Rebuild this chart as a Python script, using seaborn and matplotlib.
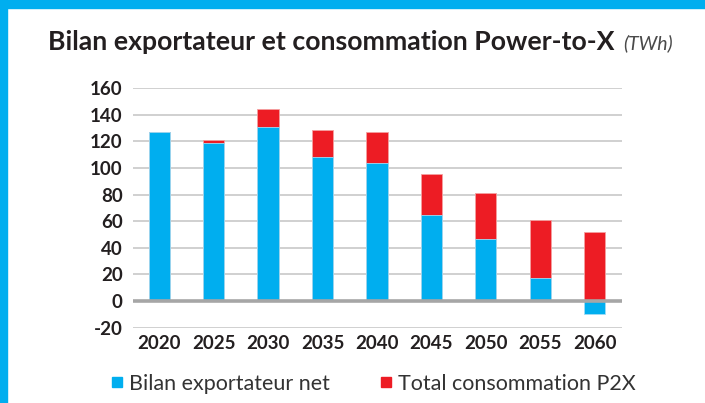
import matplotlib
matplotlib.use("Agg")
import matplotlib.pyplot as plt
import seaborn as sns
import numpy as np
import pandas as pd
from matplotlib.lines import Line2D
from matplotlib.patches import Rectangle

years = ["2020", "2025", "2030", "2035", "2040", "2045", "2050", "2055", "2060"]
bilan_net = [127, 119, 131, 108.5, 103.5, 65, 46.5, 17.5, -10]
conso_p2x = [0, 2, 13.5, 20, 23.5, 30.5, 34.5, 43.5, 52]
y_ticks = [-20, 0, 20, 40, 60, 80, 100, 120, 140, 160]

BLUE = "#00AEEF"
RED = "#ED1C24"
TXT = "#231F20"

sns.set_theme(style="white")
plt.rcParams["font.family"] = ["Lato", "DejaVu Sans"]

df = pd.DataFrame({"year": years, "net": bilan_net, "p2x": conso_p2x})
df["top"] = df["net"].clip(lower=0) + df["p2x"]

fig = plt.figure(figsize=(7.05, 4.03), dpi=100)
ax = fig.add_axes([133 / 705, 1 - 327.7 / 403, (622 - 133) / 705, (327.7 - 88) / 403])

sns.barplot(data=df, x="year", y="top", color=RED, saturation=1, width=0.39,
            edgecolor="#f4a0a0", linewidth=0.6, ax=ax, zorder=3)
sns.barplot(data=df, x="year", y="net", color=BLUE, saturation=1, width=0.39,
            edgecolor="#a0dcf5", linewidth=0.6, ax=ax, zorder=4)

ax.set_xlim(-0.48, 8.5)
ax.set_ylim(-20, 160)
ax.set_yticks(y_ticks)
ax.set_yticklabels([str(v) for v in y_ticks])
for v in y_ticks:
    if v == 0:
        ax.axhline(0, color="#a6a6a6", lw=2.6, zorder=5)
    else:
        ax.axhline(v, color="#c8c8c8", lw=1.2, zorder=1)
for s in ax.spines.values():
    s.set_visible(False)
ax.set_xlabel("")
ax.set_ylabel("")
ax.tick_params(axis="both", length=0, labelsize=13.5, colors=TXT)
ax.tick_params(axis="y", pad=7.5)
ax.tick_params(axis="x", pad=5.5)
for lab in ax.get_xticklabels() + ax.get_yticklabels():
    lab.set_fontweight("bold")

# title
fig.text(48 / 705, 1 - 42 / 403, "Bilan exportateur et consommation Power-to-X",
         fontsize=19.2, fontweight="bold", color=TXT, va="center", ha="left")
fig.text(623 / 705, 1 - 43 / 403, "(TWh)", fontsize=14, fontstyle="italic",
         color="#4a4a4a", va="center", ha="left")

# legend
handles = [Line2D([], [], marker="s", ls="none", color=BLUE, markersize=6.5),
           Line2D([], [], marker="s", ls="none", color=RED, markersize=6.5)]
leg = fig.legend(handles, ["Bilan exportateur net", "Total consommation P2X"],
                 loc="center left", bbox_to_anchor=(111 / 705, 1 - 384 / 403), ncol=2,
                 frameon=False, handlelength=0.6, handletextpad=0.25,
                 columnspacing=2.3, borderpad=0, borderaxespad=0,
                 fontsize=15.5, labelcolor="#333333")

# frame border (top & left)
fig.patches.append(Rectangle((0, 1 - 8 / 403), 1, 8 / 403, transform=fig.transFigure,
                             color=BLUE, zorder=10))
fig.patches.append(Rectangle((0, 0), 7 / 705, 1, transform=fig.transFigure,
                             color=BLUE, zorder=10))

fig.savefig("out.png", dpi=100)
